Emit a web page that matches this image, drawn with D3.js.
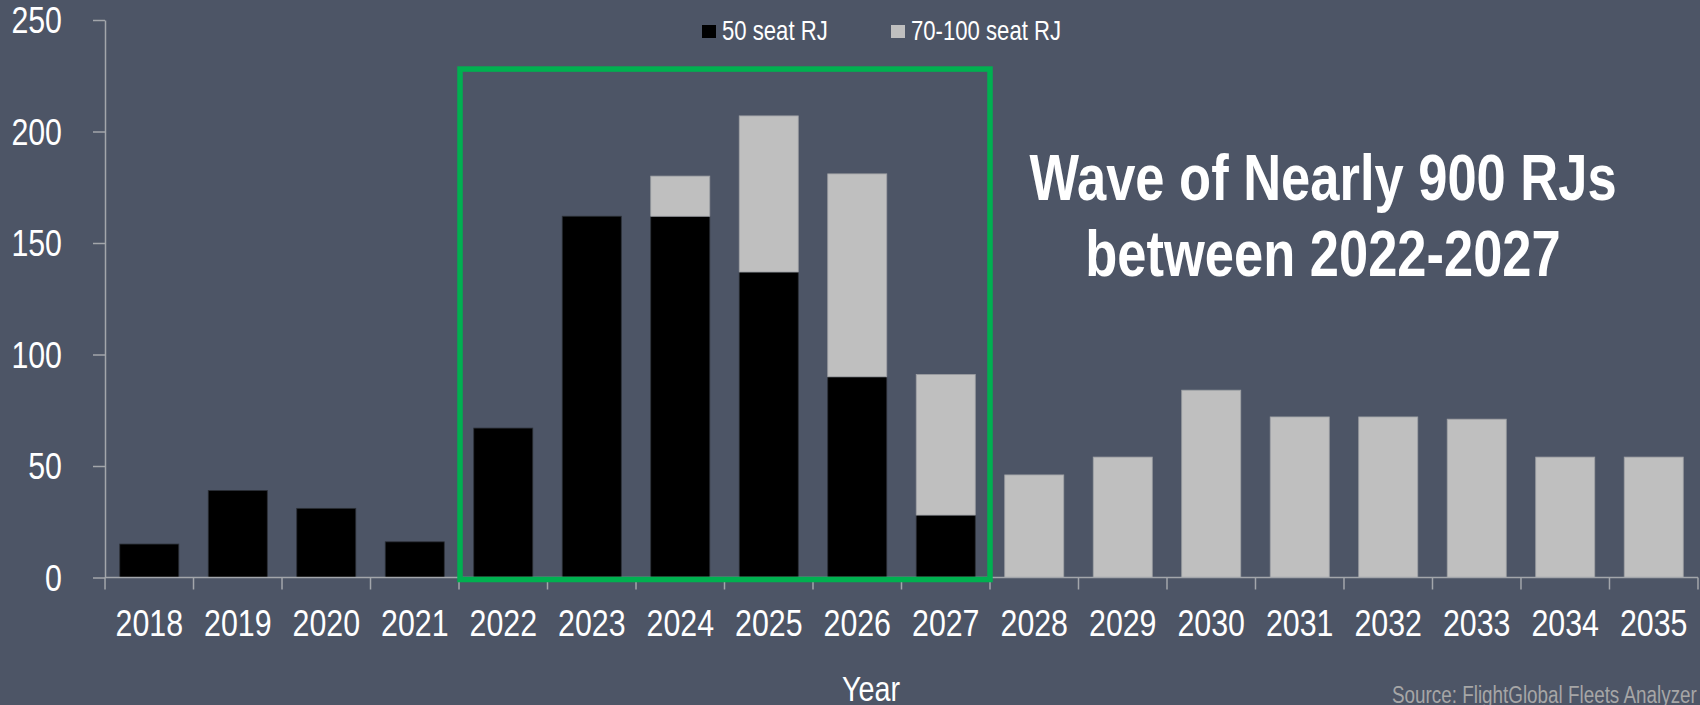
<!DOCTYPE html>
<html><head><meta charset="utf-8">
<script src="https://cdn.jsdelivr.net/npm/d3@7"></script>
<style>
html,body{margin:0;padding:0;background:#4d5566;overflow:hidden}
svg text{font-family:"Liberation Sans",Arial,sans-serif}
</style></head><body>
<svg id="c" width="1700" height="705"></svg>
<script>
const years = ["2018","2019","2020","2021","2022","2023","2024","2025","2026","2027","2028","2029","2030","2031","2032","2033","2034","2035"];
const seat50 = [15,39,31,16,67,162,162,137,90,28,0,0,0,0,0,0,0,0];
const seat70100 = [0,0,0,0,0,0,18,70,91,63,46,54,84,72,72,71,54,54];
const yTicks = [0,50,100,150,200,250];
const seriesNames = ["50 seat RJ","70-100 seat RJ"];
const seriesColors = ["#000000","#bfbfbf"];
const highlightRange = ["2022","2027"];
const highlightTop = 228;
const annotationLines = ["Wave of Nearly 900 RJs","between 2022-2027"];
const xTitle = "Year";
const sourceText = "Source: FlightGlobal Fleets Analyzer";

const SX = 0.82; // narrow face emulation
const svg = d3.select("#c");
const axisColor = "#a3a6ab";

function narrow(sel, fx, fy){
  sel.each(function(d,i){
    d3.select(this).attr("x",0).attr("y",0)
      .attr("transform",`translate(${fx(d,i)},${fy(d,i)}) scale(${SX},1)`);
  });
  return sel;
}

const x = d3.scaleBand().domain(years).range([105,1698]).paddingInner(0.333).paddingOuter(0.1667);
const y = d3.scaleLinear().domain([0,250]).range([577.5,20]);

const rows = years.map((yr,i)=>({year:yr, s50:seat50[i], s70:seat70100[i]}));
const stack = d3.stack().keys(["s50","s70"])(rows);
const gap = (x.step()-x.bandwidth())/2;

// bars
stack.forEach((layer,li)=>{
  svg.append("g").selectAll("rect").data(layer.filter(d=>d[1]>d[0])).join("rect")
    .attr("x",d=>x(d.data.year))
    .attr("width",x.bandwidth())
    .attr("y",d=>y(d[1]))
    .attr("height",d=>y(d[0])-y(d[1]))
    .attr("fill",seriesColors[li])
    .attr("stroke",li===0?"#2b2f36":"#9ea0a4")
    .attr("stroke-width",0.8);
});

// y axis
const yAxis = svg.append("g").attr("transform","translate(105,0)")
  .call(d3.axisLeft(y).tickValues(yTicks).tickSize(12).tickPadding(31).tickSizeOuter(0));
yAxis.select(".domain").attr("stroke",axisColor).attr("stroke-width",1.5);
yAxis.selectAll(".tick line").attr("stroke",axisColor).attr("stroke-width",1.5);
const yt = yAxis.selectAll(".tick text").attr("fill","#ffffff").attr("font-size",37)
  .attr("font-family",null).attr("dy","0.35em");
narrow(yt, ()=>-43, ()=>0);

// x axis
const xg = svg.append("g");
xg.append("line").attr("x1",105).attr("x2",1698).attr("y1",y(0)).attr("y2",y(0))
  .attr("stroke",axisColor).attr("stroke-width",1.5);
const bounds = years.map(d=>x(d)-gap).concat([x(years[years.length-1])+x.bandwidth()+gap]);
xg.selectAll("line.t").data(bounds).join("line").attr("class","t")
  .attr("x1",d=>d).attr("x2",d=>d).attr("y1",y(0)).attr("y2",y(0)+12)
  .attr("stroke",axisColor).attr("stroke-width",1.5);
const xt = xg.selectAll("text").data(years).join("text")
  .attr("text-anchor","middle").attr("fill","#ffffff").attr("font-size",37).text(d=>d);
narrow(xt, d=>x(d)+x.bandwidth()/2, ()=>636);

// highlight box
const hx0 = x(highlightRange[0])-gap+1;
const hx1 = x(highlightRange[1])+x.bandwidth()+gap;
svg.append("rect").attr("x",hx0).attr("y",y(highlightTop))
  .attr("width",hx1-hx0).attr("height",y(0)+2-y(highlightTop))
  .attr("fill","none").attr("stroke","#00b050").attr("stroke-width",5.5);

// legend
const leg = svg.append("g");
const legX = [702, 891];
seriesNames.forEach((n,i)=>{
  leg.append("rect").attr("x",legX[i]).attr("y",25).attr("width",14).attr("height",13).attr("fill",seriesColors[i]);
  const t = leg.append("text").datum(n).attr("fill","#ffffff").attr("font-size",27).text(n);
  narrow(t, ()=>legX[i]+20, ()=>40);
});

// annotation
const at = svg.append("g").selectAll("text").data(annotationLines).join("text")
  .attr("text-anchor","middle").attr("fill","#ffffff").attr("font-size",64).attr("font-weight","bold")
  .text(d=>d);
narrow(at, ()=>1323, (d,i)=>200+i*76);

// axis title
const tt = svg.append("text").datum(xTitle).attr("text-anchor","middle")
  .attr("fill","#ffffff").attr("font-size",35).text(xTitle);
narrow(tt, ()=>871, ()=>701);

// source
const st = svg.append("text").datum(sourceText).attr("fill","#a6a6a6").attr("font-size",23).text(sourceText);
narrow(st, ()=>1392, ()=>703);
</script>
</body></html>
